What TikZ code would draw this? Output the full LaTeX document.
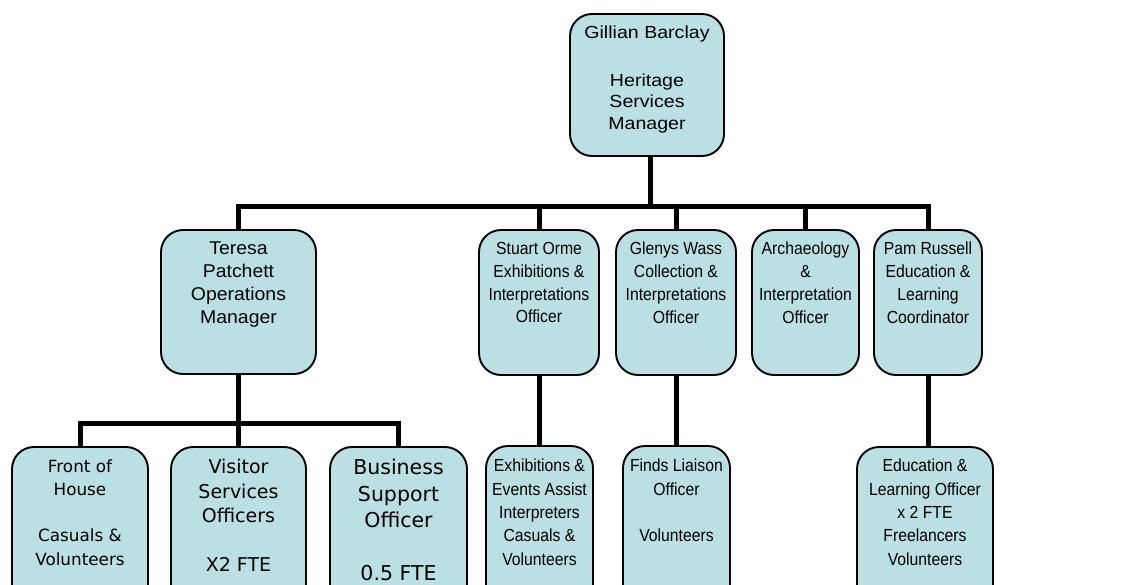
\documentclass[tikz,border=0pt]{standalone}
\usepackage{fontspec}
\usetikzlibrary{fit}
\setmainfont{Liberation Sans}
\newfontfamily\fTop[FakeStretch=1.12]{Liberation Sans}
\newfontfamily\fMgr[FakeStretch=1.05]{Liberation Sans}
\newfontfamily\fMid[FakeStretch=0.9]{Liberation Sans}
\newfontfamily\fVer{DejaVu Sans}
\definecolor{boxfill}{HTML}{BBE0E3}
\tikzset{
  orgbox/.style={draw=black, line width=1.9pt, fill=boxfill, rounded corners=22pt, inner sep=0pt},
  orgtext/.style={anchor=north, align=center, inner sep=0pt},
  conn/.style={draw=black, line width=5pt, line join=miter, line cap=butt},
  ftop/.style={font=\fTop\fontsize{17.5}{21.5}\selectfont},
  fmgr/.style={font=\fMgr\fontsize{18.5}{22.8}\selectfont},
  fmid/.style={font=\fMid\fontsize{17.5}{22.8}\selectfont},
  flow/.style={font=\fMid\fontsize{17.5}{23.3}\selectfont},
}
\begin{document}
\begin{tikzpicture}[x=1pt,y=-1pt]
\useasboundingbox (0,0) rectangle (1133,584);
\clip (0,0) rectangle (1133,584);
% boxes
\node[orgbox, fit={(570,14) (724,156)}] (top) {};
\node[orgbox, fit={(161,230) (316,374)}] (teresa) {};
\node[orgbox, fit={(479,230) (599,375)}] (stuart) {};
\node[orgbox, fit={(616,230) (736,375)}] (glenys) {};
\node[orgbox, fit={(752,230) (859,375)}] (arch) {};
\node[orgbox, fit={(874,230) (982,375)}] (pam) {};
\node[orgbox, fit={(12,447) (148,610)}] (front) {};
\node[orgbox, fit={(171,447) (306,610)}] (visitor) {};
\node[orgbox, fit={(330,447) (467,610)}] (business) {};
\node[orgbox, fit={(486,446) (593,610)}] (exh) {};
\node[orgbox, fit={(623,446) (730,610)}] (finds) {};
\node[orgbox, fit={(857,447) (993,610)}] (edu) {};
% texts
\node[orgtext, ftop] (top-t) at ([yshift=-13pt]top.north) {Gillian Barclay\\[26pt]Heritage\\Services\\Manager};
\node[orgtext, fmgr] (teresa-t) at ([yshift=-13pt]teresa.north) {Teresa\\Patchett\\Operations\\Manager};
\node[orgtext, fmid] (stuart-t) at ([yshift=-13pt]stuart.north) {Stuart Orme\\Exhibitions \&\\Interpretations\\Officer};
\node[orgtext, fmid] (glenys-t) at ([yshift=-13pt]glenys.north) {Glenys Wass\\Collection \&\\Interpretations\\Officer};
\node[orgtext, fmid] (arch-t) at ([yshift=-13pt]arch.north) {Archaeology\\\&\\Interpretation\\Officer};
\node[orgtext, fmid] (pam-t) at ([yshift=-13pt]pam.north) {Pam Russell\\Education \&\\Learning\\Coordinator};
\node[orgtext, font=\fVer\fontsize{16.8}{23.3}\selectfont] (front-t) at ([yshift=-13pt]front.north) {Front of\\House\\[23.3pt]Casuals \&\\Volunteers};
\node[orgtext, font=\fVer\fontsize{19}{24.5}\selectfont] (visitor-t) at ([yshift=-13pt]visitor.north) {Visitor\\Services\\Officers\\[24.5pt]X2 FTE};
\node[orgtext, font=\fVer\fontsize{20.5}{26.3}\selectfont] (business-t) at ([yshift=-13pt]business.north) {Business\\Support\\Officer\\[26.3pt]0.5 FTE};
\node[orgtext, flow] (exh-t) at ([yshift=-14pt]exh.north) {Exhibitions \&\\Events Assist\\Interpreters\\Casuals \&\\Volunteers};
\node[orgtext, flow] (finds-t) at ([yshift=-14pt]finds.north) {Finds Liaison\\Officer\\[23.3pt]Volunteers};
\node[orgtext, flow] (edu-t) at ([yshift=-13pt]edu.north) {Education \&\\Learning Officer\\x 2 FTE\\Freelancers\\Volunteers};
% connectors
\foreach \c in {teresa,stuart,glenys,arch,pam}{
  \draw[conn] ([xshift=3pt]top.south) -- ++(0,50) -| (\c.north);
}
\foreach \c in {front,visitor,business}{
  \draw[conn] (teresa.south) -- ++(0,49) -| (\c.north);
}
\draw[conn] (stuart.south) -- (stuart.south |- exh.north);
\draw[conn] (glenys.south) -- (glenys.south |- finds.north);
\draw[conn] (pam.south) -- (pam.south |- edu.north);
\end{tikzpicture}
\end{document}
